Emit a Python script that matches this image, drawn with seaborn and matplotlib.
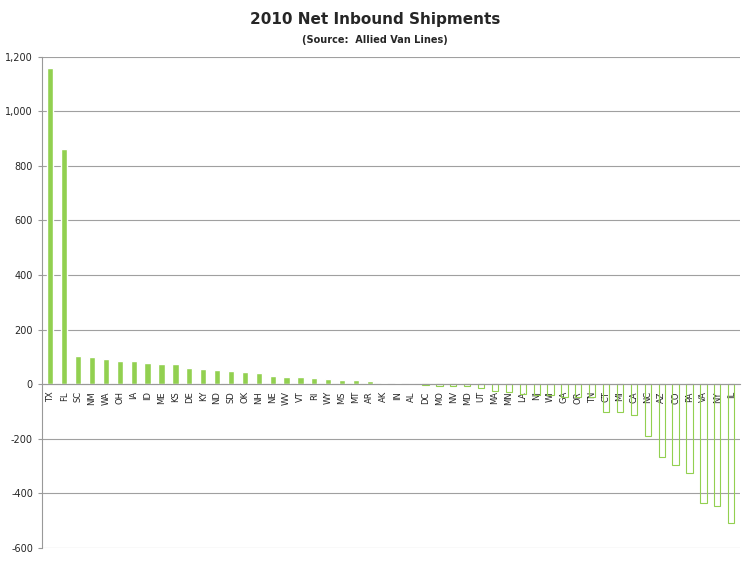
import matplotlib
matplotlib.use("Agg")
import matplotlib.pyplot as plt
import seaborn as sns
import pandas as pd

states = ["TX","FL","SC","NM","WA","OH","IA","ID","ME","KS","DE","KY","ND","SD","OK","NH","NE","WV","VT","RI",
          "WY","MS","MT","AR","AK","IN","AL","DC","MO","NV","MD","UT","MA","MN","LA","NJ","WI","GA","OR","TN",
          "CT","MI","CA","NC","AZ","CO","PA","VA","NY","IL"]
values = [1158, 860, 105, 99, 93, 84, 84, 79, 74, 74, 60, 56, 54, 50, 45, 40, 30, 26, 26, 22,
          20, 17, 15, 11, 6, 4, 1, -2, -5, -6, -7, -12, -24, -30, -36, -40, -41, -45, -46, -47,
          -103, -100, -113, -191, -268, -295, -325, -434, -444, -507]

sns.set_style("white")
df = pd.DataFrame({"state": states, "value": values})
fig = plt.figure(figsize=(7.5, 5.61), dpi=100)
ax = fig.add_axes([0.056, 0.023, 0.93, 0.876])
sns.barplot(data=df, x="state", y="value", color="#92D050", width=0.45, ax=ax, saturation=1)
green = "#92D050"
for p, v in zip(ax.patches, values):
    p.set_zorder(2)
    if v < 0:
        p.set_facecolor("none")
        p.set_edgecolor(green)
        p.set_linewidth(0.8)
ax.set_ylim(-600, 1200)
ax.set_xlim(-0.6, len(states) - 0.4)
ax.set_yticks(range(-600, 1201, 200))
ax.set_yticklabels([f"{t:,}" for t in range(-600, 1201, 200)], fontsize=7)
ax.yaxis.grid(True, color="#a0a0a0", linewidth=0.8, zorder=1)
ax.set_axisbelow(True)
ax.spines["bottom"].set_position(("data", 0))
ax.spines["bottom"].set_color("#999999")
ax.spines["bottom"].set_zorder(3)
ax.spines["left"].set_color("#999999")
ax.spines["top"].set_visible(False)
ax.spines["right"].set_visible(False)
ax.tick_params(axis="x", labelrotation=90, labelsize=6, length=3, color="#999999", pad=2)
ax.tick_params(axis="y", length=3, color="#999999", left=True)
for lbl in ax.get_xticklabels():
    lbl.set_zorder(5)
ax.set_xlabel("")
ax.set_ylabel("")
fig.text(0.5, 0.965, "2010 Net Inbound Shipments", ha="center", va="center", fontsize=11, fontweight="bold")
fig.text(0.5, 0.928, "(Source:  Allied Van Lines)", ha="center", va="center", fontsize=7, fontweight="bold")
fig.savefig("out.png", dpi=100, facecolor="white")
